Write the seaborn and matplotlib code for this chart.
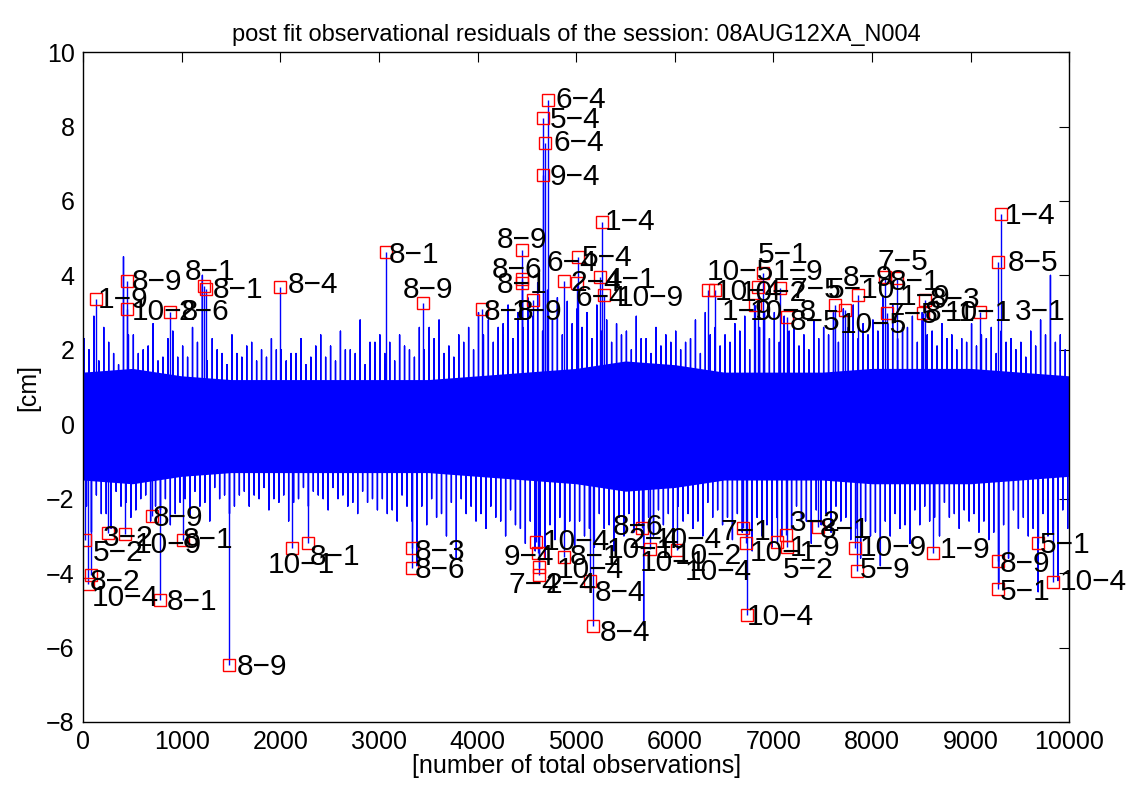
import numpy as np
import pandas as pd
import seaborn as sns
from matplotlib import pyplot as plt

# observation axis
n_obs = 10000
bin_width = 100

# outer fringe of the residuals, one peak and one trough per 100 observations [cm]
upper = [2.3, 2.9, 2.6, 1.9, 4.5, 2.4, 2.0, 2.7, 1.8, 2.5,
         2.1, 2.6, 4.0, 2.3, 1.9, 2.4, 1.8, 2.2, 2.0, 2.3,
         2.0, 1.9, 2.3, 1.8, 2.4, 2.1, 2.5, 2.0, 2.8, 2.2,
         2.4, 2.2, 2.4, 2.0, 2.6, 2.6, 2.8, 2.1, 2.4, 2.6,
         3.0, 2.8, 2.6, 3.2, 3.0, 3.4, 3.8, 3.6, 3.4, 3.3,
         3.1, 3.0, 3.2, 2.8, 2.7, 2.5, 2.9, 2.3, 2.6, 2.4,
         2.5, 2.2, 2.8, 3.0, 2.6, 2.4, 2.7, 2.9, 3.2, 3.0,
         3.0, 2.9, 2.6, 2.4, 2.8, 2.6, 3.0, 3.1, 3.2, 2.7,
         2.8, 3.4, 3.2, 2.6, 2.9, 3.0, 2.5, 2.7, 2.4, 2.3,
         2.7, 2.4, 2.6, 2.5, 2.3, 2.2, 2.5, 2.8, 4.0, 2.4]
lower = [-2.9, -2.4, -2.8, -2.2, -2.5, -2.0, -2.6, -2.3, -2.7, -2.1,
         -2.5, -2.2, -2.6, -2.0, -2.4, -1.9, -2.2, -2.0, -2.3, -2.1,
         -2.6, -2.0, -2.2, -1.9, -2.3, -2.0, -2.2, -2.4, -2.1, -2.3,
         -2.4, -2.6, -2.2, -3.8, -2.7, -2.5, -3.0, -3.6, -2.4, -2.6,
         -2.8, -2.5, -3.0, -2.7, -3.2, -3.4, -3.6, -3.1, -2.9, -3.3,
         -3.0, -3.3, -2.8, -3.4, -3.0, -2.9, -5.4, -3.0, -2.7, -2.9,
         -2.6, -2.8, -3.0, -2.5, -2.7, -3.1, -2.9, -3.4, -3.0, -3.3,
         -3.0, -2.8, -2.6, -3.2, -2.7, -2.9, -2.6, -3.1, -3.6, -3.0,
         -3.8, -3.0, -2.8, -3.2, -2.7, -2.6, -3.0, -2.5, -2.8, -2.6,
         -2.9, -3.1, -4.3, -3.6, -2.8, -3.0, -4.5, -3.0, -4.2, -2.8]

# secondary peaks / troughs inside each 100-observation bin [cm]
mid_up = [2.0, 1.7, 2.2, 1.6, 2.4, 1.9, 2.1, 1.7, 2.3, 1.8,
          1.8, 2.2, 1.7, 2.0, 1.6, 1.9, 2.1, 1.7, 1.8, 2.0,
          1.7, 1.9, 1.6, 2.1, 1.8, 1.7, 2.0, 1.9, 1.6, 2.2,
          1.9, 1.7, 2.1, 1.8, 2.0, 2.3, 1.9, 1.8, 2.2, 2.0,
          2.4, 2.2, 2.7, 2.3, 2.6, 2.9, 2.5, 2.8, 2.4, 2.7,
          2.6, 2.3, 2.5, 2.2, 2.4, 2.0, 2.3, 1.9, 2.1, 2.2,
          2.0, 2.3, 1.9, 2.4, 2.1, 2.2, 2.5, 2.0, 2.6, 2.3,
          2.2, 2.5, 2.1, 2.0, 2.3, 2.4, 2.2, 2.6, 2.3, 2.4,
          2.5, 2.7, 2.3, 2.6, 2.2, 2.4, 2.1, 2.3, 2.0, 2.2,
          2.1, 2.3, 1.9, 2.2, 2.0, 1.8, 2.1, 2.4, 2.2, 2.0]
mid_lo = [-2.2, -1.9, -2.4, -1.8, -2.1, -2.3, -1.9, -2.2, -2.0, -2.4,
          -2.0, -1.8, -2.1, -1.7, -1.9, -2.2, -1.8, -1.9, -1.7, -2.0,
          -1.9, -2.1, -1.7, -1.8, -2.0, -1.7, -1.9, -2.1, -1.8, -2.0,
          -2.0, -2.3, -1.9, -2.6, -2.2, -2.0, -2.4, -2.1, -2.0, -2.2,
          -2.4, -2.2, -2.6, -2.3, -2.8, -2.6, -3.0, -2.7, -2.5, -2.6,
          -2.6, -2.8, -2.4, -2.7, -2.5, -2.4, -2.7, -2.5, -2.3, -2.4,
          -2.2, -2.4, -2.6, -2.1, -2.3, -2.5, -2.4, -2.6, -2.5, -2.7,
          -2.5, -2.3, -2.2, -2.6, -2.3, -2.4, -2.2, -2.5, -2.8, -2.6,
          -2.9, -2.6, -2.4, -2.7, -2.3, -2.2, -2.5, -2.1, -2.4, -2.3,
          -2.4, -2.6, -2.9, -2.7, -2.3, -2.5, -2.8, -2.4, -2.9, -2.3]

# dense core of the band, one value per 500 observations [cm]
core_x = list(range(0, 10001, 500))
core_hi = [1.4, 1.5, 1.3, 1.2, 1.2, 1.2, 1.2, 1.2, 1.3, 1.4, 1.5,
           1.7, 1.6, 1.4, 1.4, 1.4, 1.5, 1.5, 1.5, 1.4, 1.3]
core_lo = [-1.5, -1.6, -1.4, -1.3, -1.3, -1.3, -1.3, -1.3, -1.4, -1.5, -1.6,
           -1.8, -1.7, -1.5, -1.5, -1.5, -1.6, -1.6, -1.6, -1.5, -1.4]

# flagged outliers (red squares)
out_x = [132, 446, 446, 882, 1227, 1247, 1998, 3073, 3448, 4047, 4452, 4452, 4452,
         4564, 4878, 5020, 5010, 5243, 5284, 4716, 4665, 4686, 4665, 5264, 6339,
         6410, 6897, 6846, 6815, 7069, 7140, 7627, 7728, 7860, 8134, 8256, 8154,
         8540, 8519, 9097, 9280, 9310,
         20, 254, 426, 81, 51, 700, 1014, 781, 2120, 2282, 1481, 3337, 3337, 4594,
         4615, 4625, 4625, 4878, 5142, 5172, 5669, 5751, 6024, 6694, 6724, 7039,
         7130, 7140, 7454, 7830, 7850, 8621, 9280, 9280, 9686, 9838, 6734]
out_y = [3.36, 3.84, 3.09, 3.01, 3.71, 3.63, 3.68, 4.62, 3.25, 3.09, 4.68, 3.90, 3.79,
         3.33, 3.84, 4.49, 3.79, 3.95, 3.47, 8.71, 8.23, 7.55, 6.69, 5.43, 3.60,
         3.60, 4.06, 3.68, 3.20, 3.66, 2.88, 3.20, 3.06, 3.47, 3.95, 3.92, 2.98,
         3.33, 2.98, 3.01, 4.35, 5.65,
         -3.12, -2.93, -2.96, -4.06, -4.30, -2.47, -3.12, -4.73, -3.33, -3.20, -6.48,
         -3.33, -3.87, -3.17, -3.47, -3.84, -4.06, -3.58, -4.22, -5.43, -2.80, -3.36,
         -3.39, -2.80, -3.20, -3.17, -2.98, -3.31, -2.77, -3.33, -3.95, -3.47, -3.68,
         -4.44, -3.20, -4.25, -5.13]

# baseline labels (station pairs) and where they sit
lab_text = ["1−9", "8−9", "10−8", "2−6", "8−1", "8−1", "8−4", "8−1", "8−9", "8−9",
            "8−6", "8−1", "8−8", "1−9", "6−4", "5−4", "2−4", "4−1", "6−4", "10−9",
            "6−4", "5−4", "6−4", "9−4", "1−4", "5−1", "10−5", "1−9", "10−4", "10−2",
            "7−5", "5−10", "1−9", "10−8", "8−5", "10−5", "8−9", "7−5", "8−1", "1−9",
            "8−3", "7−5", "8−1", "10−1", "3−1", "8−5", "1−4",
            "5−2", "3−2", "10−9", "8−1", "8−9", "8−2", "10−4", "8−1", "10−1", "8−1",
            "8−9", "8−3", "8−6", "10−4", "9−4", "7−4", "2−4", "10−4", "8−1", "10−1",
            "8−4", "8−4", "8−6", "2−4", "10−4", "10−1", "10−2", "10−4", "7−1", "10−1",
            "1−9", "3−2", "8−1", "5−2", "10−4", "10−9", "5−9", "1−9", "8−9", "5−1",
            "5−1", "10−4"]
lab_x = [152, 497, 497, 963, 1034, 1318, 2079, 3103, 3245, 4199,
         4148, 4199, 4067, 4351, 4696, 5061, 4939, 5294, 4990, 5416,
         4787, 4736, 4767, 4736, 5294, 6846, 6329, 6998, 6410, 6663,
         7170, 7556, 6481, 6765, 7170, 7677, 7708, 8053, 8185, 8286,
         8590, 8154, 8540, 8742, 9452, 9381, 9351,
         101, 203, 527, 1014, 710, 71, 91, 852, 1876, 2302,
         1562, 3367, 3367, 4665, 4260, 4310, 4686, 4807, 4939, 5314,
         5193, 5243, 5375, 5527, 5801, 5649, 6004, 6106, 6460, 6765,
         7170, 7170, 7475, 7099, 6734, 7880, 7880, 8692, 9300, 9300,
         9706, 9909]
lab_y = [3.33, 3.82, 3.01, 3.01, 4.09, 3.60, 3.74, 4.54, 3.60, 4.95,
         4.14, 3.74, 3.01, 3.01, 4.33, 4.46, 3.79, 3.87, 3.39, 3.39,
         8.71, 8.17, 7.55, 6.64, 5.43, 4.54, 4.09, 4.09, 3.55, 3.52,
         3.60, 3.60, 3.01, 3.01, 2.74, 2.66, 3.92, 4.35, 3.82, 3.41,
         3.33, 2.93, 2.98, 2.98, 3.01, 4.33, 5.59,
         -3.47, -3.06, -3.25, -3.12, -2.53, -4.25, -4.68, -4.78, -3.79, -3.58,
         -6.53, -3.44, -3.92, -3.17, -3.58, -4.33, -4.33, -3.92, -3.58, -3.39,
         -4.54, -5.62, -2.77, -3.12, -3.12, -3.74, -3.55, -3.98, -2.90, -3.47,
         -3.33, -2.66, -2.85, -3.92, -5.19, -3.33, -3.92, -3.39, -3.76, -4.52,
         -3.25, -4.25]

# residual trace: each read peak/trough is drawn as a spike leaving and
# returning to zero, four per 100-observation bin
starts = np.arange(0, n_obs, bin_width)
xs, ys = [], []
for s, u, l, mu, ml in zip(starts, upper, lower, mid_up, mid_lo):
    for off, v in ((10, u), (35, ml), (60, mu), (85, l)):
        xs += [s + off, s + off, s + off]
        ys += [0, v, 0]
trace = pd.DataFrame({"obs": xs, "res": ys})

sns.set_style("white")
plt.rcParams['font.family'] = ['Liberation Sans', 'DejaVu Sans']
plt.rcParams['text.color'] = 'black'
plt.rcParams['axes.labelcolor'] = 'black'

fig = plt.figure(figsize=(11.27, 7.89), dpi=100)
ax = fig.add_axes([0.0737, 0.085, 0.875, 0.849])

blue = "#0000ff"
ax.fill_between(core_x, core_lo, core_hi, color=blue, lw=0)
sns.lineplot(data=trace, x="obs", y="res", color=blue, lw=1.0, sort=False,
             estimator=None, ax=ax)
ax.vlines(out_x, 0, out_y, color=blue, lw=1.0)
ax.plot(out_x, out_y, ls="none", marker="s", ms=8.5, mfc="none", mec="#ff0000", mew=1.0)

for t, x, y in zip(lab_text, lab_x, lab_y):
    ax.text(x, y, t, fontsize=21.5, ha="left", va="center", color="black")

ax.set_xlim(0, 10000)
ax.set_ylim(-8, 10)
ax.set_xticks(np.arange(0, 10001, 1000))
ax.set_yticks(np.arange(-8, 11, 2))
ax.tick_params(direction="in", length=7, width=0.8, top=True, right=True,
               labelsize=18, colors="black", pad=6)
for s in ax.spines.values():
    s.set_color("black")
    s.set_linewidth(1.0)

ax.set_title("post fit observational residuals of the session: 08AUG12XA_N004",
             fontsize=17, pad=8, color="black")
ax.set_xlabel("[number of total observations]", fontsize=18, labelpad=0)
ax.set_ylabel("[cm]", fontsize=18, labelpad=4)

fig.savefig("out.png", dpi=100)
